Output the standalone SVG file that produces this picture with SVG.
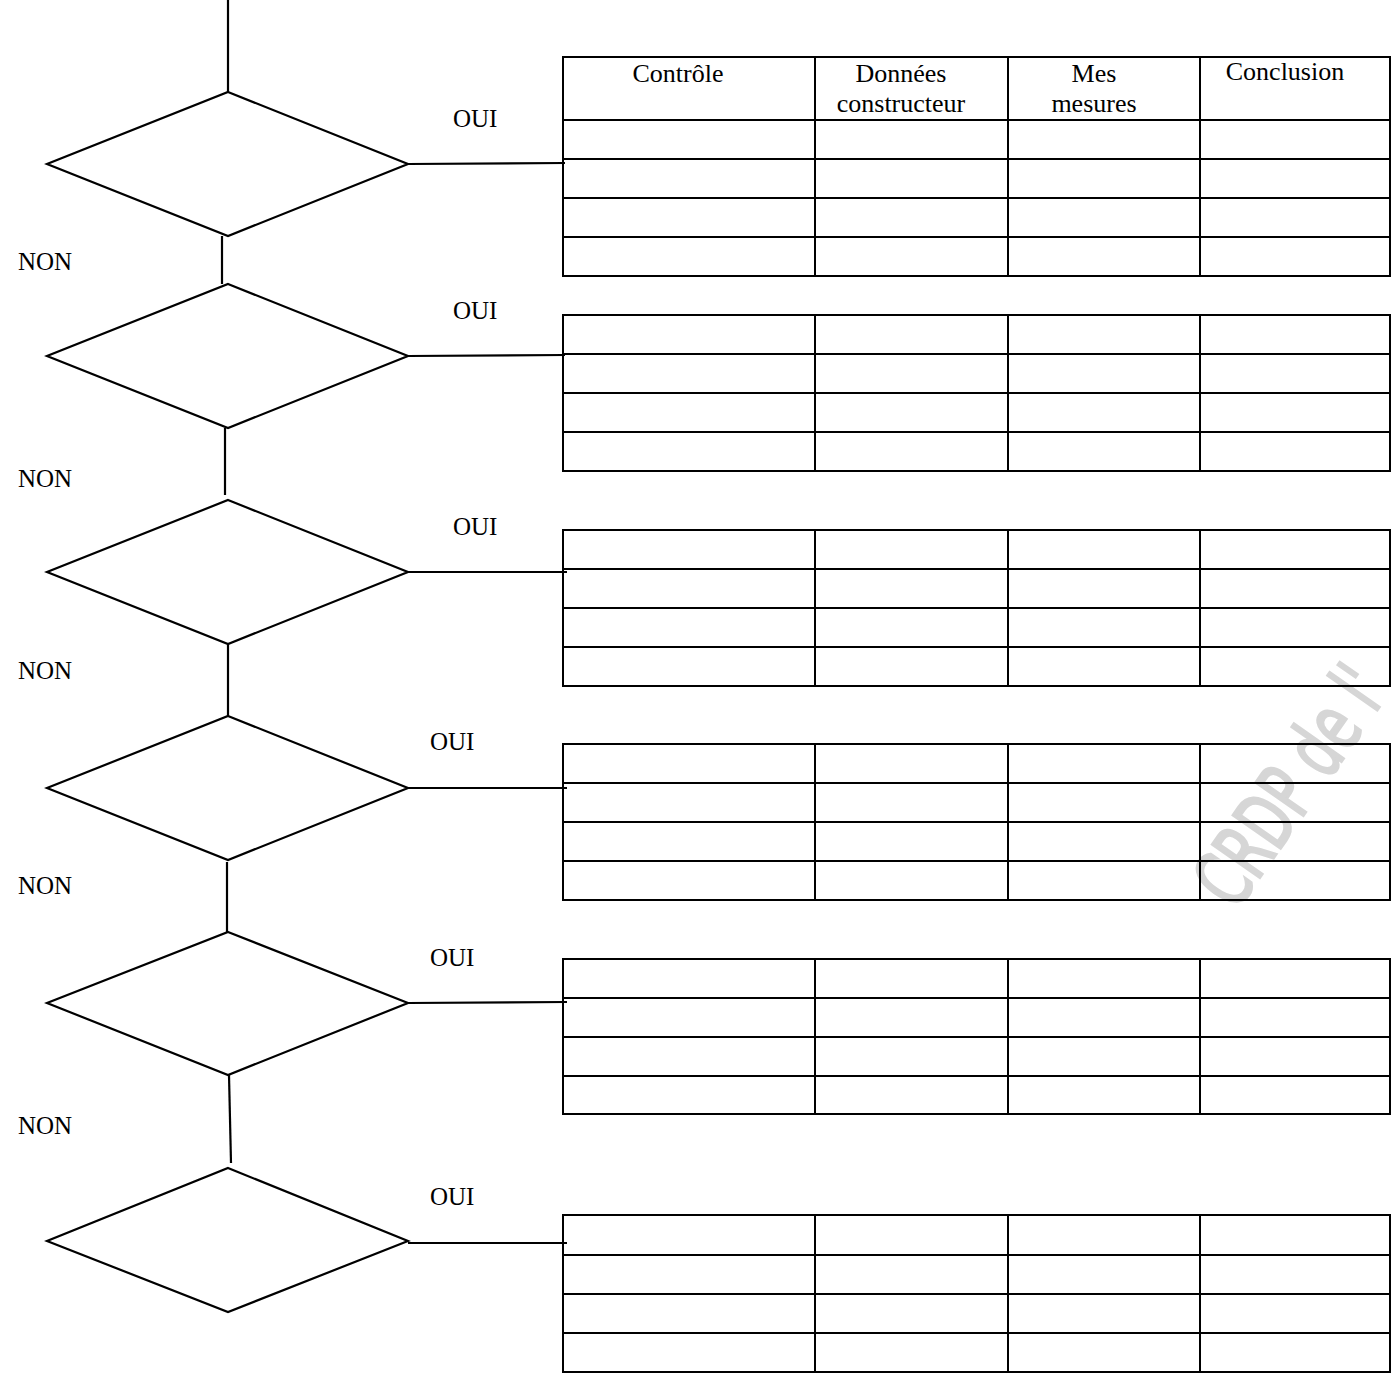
<svg xmlns="http://www.w3.org/2000/svg" width="1392" height="1373" viewBox="0 0 1392 1373">
<style>
.d{fill:#fff;stroke:#000;stroke-width:2.2}
.c{stroke:#000;stroke-width:2.2;fill:none}
.t{fill:none;stroke:#000;stroke-width:2}
.lbl{font-family:"Liberation Serif","Times New Roman",serif;font-size:25px;fill:#000}
.h{font-family:"Liberation Serif","Times New Roman",serif;font-size:26px;fill:#000;text-anchor:middle}
.wm{font-family:"DejaVu Sans Condensed","DejaVu Sans",sans-serif;font-stretch:condensed;font-size:80px;fill:#d6d6d6;stroke:#d6d6d6;stroke-width:2.5}
</style>
<rect width="1392" height="1373" fill="#fff"/>
<text class="wm" transform="translate(1236,912) rotate(-55) scale(0.72,1)">CRDP de l'</text>
<g id="connectors">
<line class="c" x1="228" y1="0" x2="228" y2="92"/>
<line class="c" x1="222" y1="236" x2="222" y2="284"/>
<line class="c" x1="225" y1="428" x2="225" y2="495"/>
<line class="c" x1="228" y1="644" x2="228" y2="716"/>
<line class="c" x1="227" y1="862" x2="227" y2="932"/>
<line class="c" x1="229" y1="1075" x2="231" y2="1163"/>
<line class="c" x1="408" y1="164" x2="565" y2="163"/>
<line class="c" x1="408" y1="356" x2="565" y2="355"/>
<line class="c" x1="408" y1="572" x2="567" y2="572"/>
<line class="c" x1="408" y1="788" x2="567" y2="788"/>
<line class="c" x1="408" y1="1003" x2="567" y2="1002"/>
<line class="c" x1="408" y1="1243" x2="567" y2="1243"/>
</g>
<g id="decision1"><polygon class="d" points="228,92 408,164 228,236 47,164"/></g>
<g id="decision2"><polygon class="d" points="228,284 408,356 228,428 47,356"/></g>
<g id="decision3"><polygon class="d" points="228,500 408,572 228,644 47,572"/></g>
<g id="decision4"><polygon class="d" points="228,716 408,788 228,860 47,788"/></g>
<g id="decision5"><polygon class="d" points="228,932 408,1003 228,1075 47,1003"/></g>
<g id="decision6"><polygon class="d" points="228,1168 408,1241 228,1312 47,1241"/></g>
<g id="labels">
<text class="lbl" x="453" y="127">OUI</text>
<text class="lbl" x="18" y="270">NON</text>
<text class="lbl" x="453" y="319">OUI</text>
<text class="lbl" x="18" y="487">NON</text>
<text class="lbl" x="453" y="535">OUI</text>
<text class="lbl" x="18" y="679">NON</text>
<text class="lbl" x="430" y="750">OUI</text>
<text class="lbl" x="18" y="894">NON</text>
<text class="lbl" x="430" y="966">OUI</text>
<text class="lbl" x="18" y="1134">NON</text>
<text class="lbl" x="430" y="1205">OUI</text>
</g>
<g id="table1">
<rect class="t" x="563" y="57" width="827" height="219"/>
<path class="t" d="M563 120H1390M563 159H1390M563 198H1390M563 237H1390M815 57V276M1008 57V276M1200 57V276"/>
<text class="h" x="678" y="82">Contrôle</text>
<text class="h" x="901" y="82">Données</text>
<text class="h" x="901" y="112">constructeur</text>
<text class="h" x="1094" y="82">Mes</text>
<text class="h" x="1094" y="112">mesures</text>
<text class="h" x="1285" y="80">Conclusion</text>
</g>
<g id="table2">
<rect class="t" x="563" y="315" width="827" height="156"/>
<path class="t" d="M563 354H1390M563 393H1390M563 432H1390M815 315V471M1008 315V471M1200 315V471"/>
</g>
<g id="table3">
<rect class="t" x="563" y="530" width="827" height="156"/>
<path class="t" d="M563 569H1390M563 608H1390M563 647H1390M815 530V686M1008 530V686M1200 530V686"/>
</g>
<g id="table4">
<rect class="t" x="563" y="744" width="827" height="156"/>
<path class="t" d="M563 783H1390M563 822H1390M563 861H1390M815 744V900M1008 744V900M1200 744V900"/>
</g>
<g id="table5">
<rect class="t" x="563" y="959" width="827" height="155"/>
<path class="t" d="M563 998H1390M563 1037H1390M563 1076H1390M815 959V1114M1008 959V1114M1200 959V1114"/>
</g>
<g id="table6">
<rect class="t" x="563" y="1215" width="827" height="157"/>
<path class="t" d="M563 1255H1390M563 1294H1390M563 1333H1390M815 1215V1372M1008 1215V1372M1200 1215V1372"/>
</g>
</svg>
